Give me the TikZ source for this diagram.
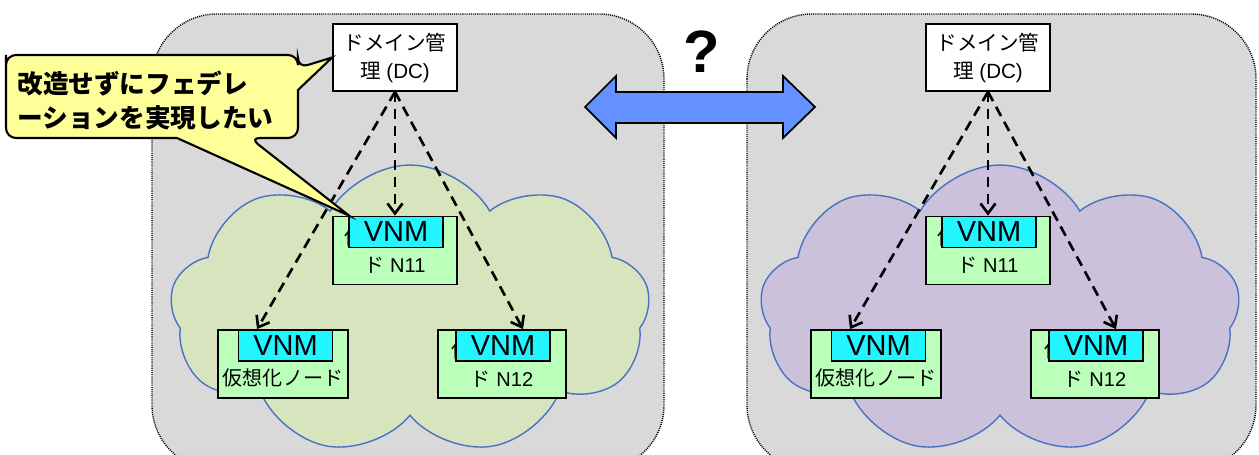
\documentclass[tikz,border=0pt]{standalone}
\usepackage{fontspec}
\setmainfont{Liberation Sans}
\newfontfamily\jp{Noto Sans CJK JP}
\usepackage{xcolor}
\usepackage{tikz}
\usetikzlibrary{arrows.meta,calc,shapes.symbols}

\definecolor{panelgray}{HTML}{D9D9D9}
\definecolor{cloudgreen}{HTML}{D7E4BD}
\definecolor{cloudpurple}{HTML}{CCC1DA}
\definecolor{cloudline}{HTML}{4A72C4}
\definecolor{nodegreen}{HTML}{BBFFBB}
\definecolor{vnmcyan}{HTML}{22F5FF}
\definecolor{arrowblue}{HTML}{6391FF}
\definecolor{calloutyellow}{HTML}{FFFF99}

\tikzset{
  panel/.style={fill=panelgray, draw=black, line width=0.8pt, dash pattern=on 0.6pt off 0.6pt, rounded corners=1.3cm},
  netcloud/.style={cloud, cloud puffs=9, cloud puff arc=120, aspect=1.67, draw=cloudline, line width=0.8pt, minimum width=9.6cm, minimum height=5.8cm, inner sep=0pt},
  dcbox/.style={draw=black, fill=white, line width=1pt, align=center, minimum width=2.48cm, minimum height=1.34cm, inner sep=0pt, font=\fontsize{11.7}{15.9}\selectfont},
  vnode/.style={draw=black, fill=nodegreen, line width=1pt, align=center, minimum height=1.36cm, inner sep=0pt, font=\fontsize{11.4}{16}\selectfont},
  vnm/.style={draw=black, fill=vnmcyan, line width=1pt, anchor=north, minimum width=1.88cm, minimum height=0.62cm, inner sep=0pt, font=\fontsize{16.5}{18}\selectfont},
  dasharrow/.style={line width=1.5pt, dash pattern=on 0.21cm off 0.13cm, -{Straight Barb[length=0.2cm,width=0.3cm]}},
  callout/.style={draw=black, fill=calloutyellow, line width=1.2pt},
}

\begin{document}
\begin{tikzpicture}[x=0.02cm, y=-0.02cm]
    \useasboundingbox (0,0) rectangle (1259,455);
    \clip (0,0) rectangle (1259,455);

    % Domain panels
    \draw[panel] (152,14) rectangle (664,470);
    \draw[panel] (747,14) rectangle (1256,470);

    % Left domain
    \node[netcloud, fill=cloudgreen] (cloudL) at (410,310) {};
    \node[dcbox] (dcL) at (395,57.5) {{\jp ドメイン管}\\{\jp 理} (DC)};

    \node[vnode, minimum width=2.48cm] (n11L) at (395,250.5) {{\jp 仮想化ノー}\\{\jp ド} N11};
    \node[vnode, minimum width=2.6cm] (nlL) at (283,364) {\phantom{\jp 仮}\\{\jp 仮想化ノード}};
    \node[vnode, minimum width=2.56cm] (n12L) at (502,364) {{\jp 仮想化ノー}\\{\jp ド} N12};

    \node[vnm] (v11L) at ($(n11L.north)+(1,0)$) {VNM};
    \node[vnm] (vlL) at ($(nlL.north)+(2.5,0)$) {VNM};
    \node[vnm] (v12L) at ($(n12L.north)+(1,0)$) {VNM};

    \draw[dasharrow] (dcL.south) -- (n11L.north);
    \draw[dasharrow] (dcL.south) -- ($(nlL.north)+(-26,0)$);
    \draw[dasharrow] (dcL.south) -- ($(n12L.north)+(21,0)$);

    % Right domain
    \begin{scope}[shift={(593,0)}]
    \node[netcloud, fill=cloudpurple] (cloudR) at (407,310) {};
    \node[dcbox] (dcR) at (395,57.5) {{\jp ドメイン管}\\{\jp 理} (DC)};

    \node[vnode, minimum width=2.48cm] (n11R) at (395,250.5) {{\jp 仮想化ノー}\\{\jp ド} N11};
    \node[vnode, minimum width=2.6cm] (nlR) at (283,364) {\phantom{\jp 仮}\\{\jp 仮想化ノード}};
    \node[vnode, minimum width=2.56cm] (n12R) at (502,364) {{\jp 仮想化ノー}\\{\jp ド} N12};

    \node[vnm] (v11R) at ($(n11R.north)+(1,0)$) {VNM};
    \node[vnm] (vlR) at ($(nlR.north)+(2.5,0)$) {VNM};
    \node[vnm] (v12R) at ($(n12R.north)+(1,0)$) {VNM};

    \draw[dasharrow] (dcR.south) -- (n11R.north);
    \draw[dasharrow] (dcR.south) -- ($(nlR.north)+(-26,0)$);
    \draw[dasharrow] (dcR.south) -- ($(n12R.north)+(21,0)$);
    \end{scope}

    % Callout
    \draw[callout] (6,65) [rounded corners=0.2cm] -- (6,55) -- (298,55) -- (298,68)
        [sharp corners] -- (dcL.west) -- (298,90)
        [rounded corners=0.2cm] -- (298,138) -- (250,138)
        [sharp corners] -- ($(n11L.north west)+(17,0)$) -- (177,138)
        [rounded corners=0.2cm] -- (6,138) -- cycle;
    \node[anchor=west, align=left, inner sep=0pt, font=\jp\bfseries\fontsize{14.6}{19.8}\selectfont] (wishL) at (17,100.5) {改造せずにフェデレ\\ーションを実現したい};

    % Federation arrow
    \filldraw[fill=arrowblue, draw=black, line width=1pt] (585,107) -- (616,76) -- (616,92) -- (783,92) -- (783,76) -- (815,107) -- (783,138) -- (783,123) -- (616,123) -- (616,138) -- cycle;
    \node[font=\fontsize{34}{40}\selectfont\bfseries] (qm) at (702,52) {?};
\end{tikzpicture}
\end{document}
